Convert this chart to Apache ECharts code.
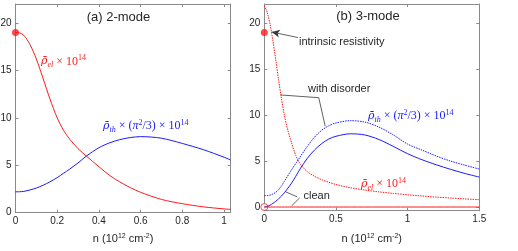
<!DOCTYPE html>
<html><head><meta charset="utf-8">
<script src="https://cdn.jsdelivr.net/npm/echarts@6/dist/echarts.min.js"></script>
<style>html,body{margin:0;padding:0;background:#fff}#c{width:518px;height:251px}</style>
</head><body><div id="c"></div>
<script>
// ---------- data ----------
// panel (a) 2-mode
const nA = [0,0.02,0.04,0.07,0.1,0.133,0.165,0.2,0.23,0.26,0.3,0.34,0.4,0.45,0.5,0.55,0.6,0.7,0.8,0.9,1.0,1.032];
const rhoElA = [19.0,18.95,18.7,17.7,16.2,14.1,12.0,10.0,8.7,7.75,6.75,5.97,4.85,3.95,3.25,2.65,2.15,1.4,0.95,0.62,0.4,0.35];
const rhoThA = [2.2,2.21,2.25,2.4,2.6,2.9,3.25,3.7,4.15,4.6,5.25,5.97,6.85,7.35,7.7,7.92,8.02,7.85,7.3,6.65,5.85,5.55];
// panel (b) 3-mode
const nB = [0,0.02,0.04,0.06,0.08,0.1,0.12,0.14,0.16,0.19,0.22,0.25,0.3,0.35,0.4,0.45,0.5,0.6,0.7,0.8,0.9,1.0,1.1,1.2,1.3,1.4,1.5];
const rhoElDis = [21.9,21.2,19.9,18.1,16.0,13.8,11.8,10.0,8.6,7.0,5.6,4.7,3.85,3.35,2.98,2.7,2.45,2.1,1.85,1.65,1.48,1.33,1.2,1.08,0.98,0.88,0.8];
const rhoElClean = [0,0,0,0,0,0,0,0,0,0,0,0,0,0,0,0,0,0,0,0,0,0,0,0,0,0,0];
const rhoThDis = [1.23,1.25,1.3,1.42,1.6,1.9,2.3,2.8,3.3,4.05,4.75,5.45,6.6,7.6,8.35,8.85,9.15,9.4,9.25,8.7,7.85,6.85,6.2,5.55,5.0,4.55,4.13];
const rhoThClean = [0,0.08,0.2,0.4,0.62,0.9,1.2,1.55,1.95,2.6,3.35,4.15,5.3,6.2,6.9,7.4,7.7,7.97,7.85,7.35,6.6,5.8,5.15,4.6,4.1,3.65,3.26];
// marked points
const intrinsicA = [[0, 19]];
const intrinsicB = [[0, 19]];
const cleanZeroB = [[0, 0]];
// ticks
const xTicksA = [0,0.2,0.4,0.6,0.8,1];
const xTicksB = [0,0.5,1,1.5];
const yTicks = [0,5,10,15,20];
// annotation anchors (data coords of panel b)
const arrowIntrinsic = [[0.235,18.45],[0.052,19.05]];
const leaderDisorder = [[0.113,12.2],[0.38,11.9],[0.425,8.8]];
const leaderClean = [[[0.15,1.65],[0.23,1.1]],[[0.19,0.12],[0.247,1.0]]];

// ---------- chart ----------
const zip = (xs, ys) => xs.map((x, i) => [x, ys[i]]);
const AX = '#8a8a8a', TXT = '#262626';
const chart = echarts.init(document.getElementById('c'), null, {renderer: 'canvas'});

function xAx(grid, min, max, ticks, pos, lab, gap) {
  return {
    type: 'value', gridIndex: grid, min: min, max: max, position: pos,
    axisLine: {show: true, onZero: false, lineStyle: {color: AX, width: 1}},
    axisTick: {show: true, inside: true, length: 3, customValues: ticks, lineStyle: {color: AX}},
    axisLabel: {show: lab, customValues: ticks, margin: 4, fontSize: 10, color: TXT, fontFamily: 'Liberation Sans'},
    splitLine: {show: false},
    name: lab ? '{a|n (10}{b|12}{a| cm}{b|-2}{a|)}' : '',
    nameLocation: 'middle', nameGap: gap,
    nameTextStyle: {rich: {
      a: {fontSize: 11, color: TXT, fontFamily: 'Liberation Sans', lineHeight: 13},
      b: {fontSize: 7, color: TXT, fontFamily: 'Liberation Sans', lineHeight: 7, verticalAlign: 'top'}
    }}
  };
}
function yAx(grid, min, max, pos, lab) {
  return {
    type: 'value', gridIndex: grid, min: min, max: max, position: pos,
    axisLine: {show: true, onZero: false, lineStyle: {color: AX, width: 1}},
    axisTick: {show: true, inside: true, length: 3, customValues: yTicks, lineStyle: {color: AX}},
    axisLabel: {show: lab, customValues: yTicks, margin: 4, fontSize: 10, color: TXT, fontFamily: 'Liberation Sans'},
    splitLine: {show: false}
  };
}
function line(xi, yi, data, color, dotted) {
  return {
    type: 'line', xAxisIndex: xi, yAxisIndex: yi, data: data, symbol: 'none',
    smooth: 0.3, silent: true,
    lineStyle: {color: color, width: 1, type: dotted ? [1.5, 1] : 'solid'}
  };
}
const RED = '#ff1a1a', BLUE = '#1a1aff';
const leaderStyle = {color: '#3a3a3a', width: 0.8, type: 'solid'};
const mlData = [
  [{coord: arrowIntrinsic[0], symbol: 'none'}, {coord: arrowIntrinsic[1], symbol: 'arrow', symbolSize: [6, 8]}],
  [{coord: leaderDisorder[0]}, {coord: leaderDisorder[1]}],
  [{coord: leaderDisorder[1]}, {coord: leaderDisorder[2]}],
  [{coord: leaderClean[0][0]}, {coord: leaderClean[0][1]}],
  [{coord: leaderClean[1][0]}, {coord: leaderClean[1][1]}]
];

const serif = "'Liberation Serif','DejaVu Serif',serif";
function mathRich(color) {
  return {
    r: {fontFamily: "'DejaVu Serif'", fontStyle: 'italic', fontSize: 11, fill: color, lineHeight: 15, verticalAlign: 'middle'},
    i: {fontFamily: serif, fontStyle: 'italic', fontSize: 12, fill: color, lineHeight: 15, verticalAlign: 'middle'},
    n: {fontFamily: serif, fontSize: 12, fill: color, lineHeight: 15, verticalAlign: 'middle'},
    sb: {fontFamily: serif, fontStyle: 'italic', fontSize: 8, fill: color, lineHeight: 8, verticalAlign: 'bottom'},
    sp: {fontFamily: serif, fontSize: 8, fill: color, lineHeight: 8, verticalAlign: 'top'}
  };
}
const txt = (x, y, t, opts) => ({type: 'text', x: x, y: y, silent: true,
  style: Object.assign({text: t, fill: TXT, font: '11px "Liberation Sans"', align: 'left', verticalAlign: 'middle'}, opts || {})});

chart.setOption({
  animation: false,
  grid: [
    {left: 15.5, top: 4, width: 215.2, height: 208.7, outerBoundsMode: 'none'},
    {left: 264.3, top: 4, width: 215, height: 206.7, outerBoundsMode: 'none'}
  ],
  xAxis: [
    xAx(0, 0, 1.032, xTicksA, 'bottom', true, 19.5),
    xAx(0, 0, 1.032, xTicksA, 'top', false, 0),
    xAx(1, 0, 1.5, xTicksB, 'bottom', true, 21.5),
    xAx(1, 0, 1.5, xTicksB, 'top', false, 0)
  ],
  yAxis: [
    yAx(0, 0, 22, 'left', true),
    yAx(0, 0, 22, 'right', false),
    yAx(1, -0.4, 22.1, 'left', true),
    yAx(1, -0.4, 22.1, 'right', false)
  ],
  series: [
    line(0, 0, zip(nA, rhoElA), RED, false),
    line(0, 0, zip(nA, rhoThA), BLUE, false),
    line(2, 2, zip(nB, rhoElDis), RED, true),
    line(2, 2, zip(nB, rhoThDis), BLUE, true),
    line(2, 2, zip(nB, rhoThClean), BLUE, false),
    Object.assign(line(2, 2, zip(nB, rhoElClean), RED, false), {
      markLine: {silent: true, symbol: ['none', 'none'], label: {show: false}, lineStyle: leaderStyle,
        emphasis: {disabled: true}, data: mlData, animation: false}
    }),
    {type: 'scatter', xAxisIndex: 0, yAxisIndex: 0, data: intrinsicA, symbolSize: 7, clip: false, silent: true,
      itemStyle: {color: RED}},
    {type: 'scatter', xAxisIndex: 2, yAxisIndex: 2, data: intrinsicB, symbolSize: 7, clip: false, silent: true,
      itemStyle: {color: RED}},
    {type: 'scatter', xAxisIndex: 2, yAxisIndex: 2, data: cleanZeroB, symbolSize: 7, clip: false, silent: true,
      itemStyle: {color: '#fff', borderColor: RED, borderWidth: 1}}
  ],
  graphic: [
    txt(118.5, 17, '(a) 2-mode', {font: '13px "Liberation Sans"', align: 'center'}),
    txt(368, 16, '(b) 3-mode', {font: '13px "Liberation Sans"', align: 'center'}),
    txt(41, 61.5, '{r|ρ̄}{sb|el}{n| × 10}{sp|14}', {rich: mathRich(RED)}),
    txt(103, 126, '{r|ρ̄}{sb|th}{n| × (}{i|π}{sp|2}{n|/3) × 10}{sp|14}', {rich: mathRich(BLUE)}),
    txt(368, 116, '{r|ρ̄}{sb|th}{n| × (}{i|π}{sp|2}{n|/3) × 10}{sp|14}', {rich: mathRich(BLUE)}),
    txt(361, 184, '{r|ρ̄}{sb|el}{n| × 10}{sp|14}', {rich: mathRich(RED)}),
    txt(299, 41.5, 'intrinsic resistivity'),
    txt(308, 89, 'with disorder'),
    txt(303.5, 196, 'clean')
  ]
});
</script></body></html>
